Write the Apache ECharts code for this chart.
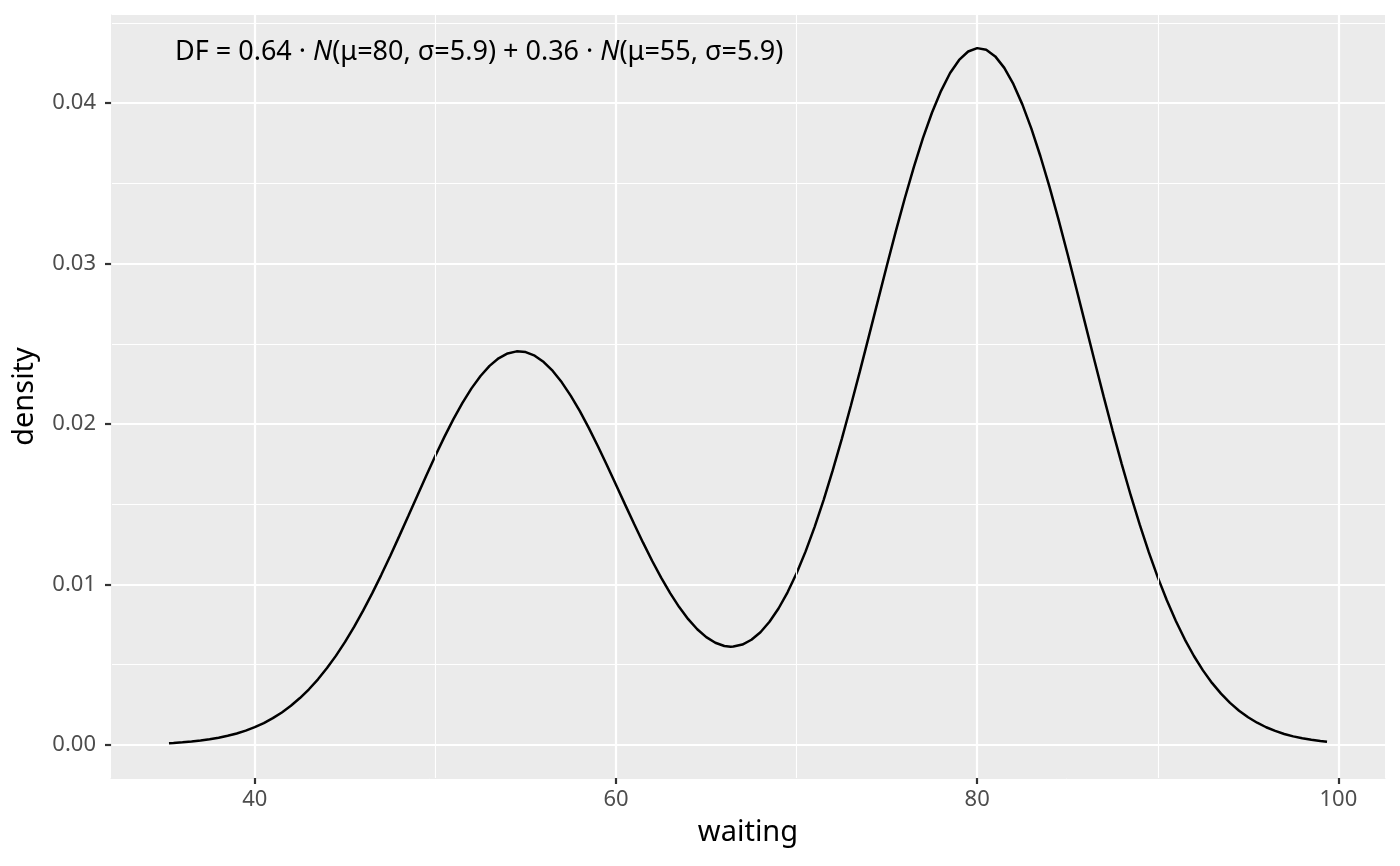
<!DOCTYPE html>
<html>
<head>
<meta charset="utf-8">
<script src="https://cdn.jsdelivr.net/npm/echarts@6/dist/echarts.min.js"></script>
<style>
  html, body { margin: 0; padding: 0; background: #fff; }
  #chart { width: 1400px; height: 866px; }
</style>
</head>
<body>
<div id="chart"></div>
<script>
// density of the two-component normal mixture
const waiting = [35.25, 35.5, 36, 36.5, 37, 37.5, 38, 38.5, 39, 39.5, 40, 40.5,
  41, 41.5, 42, 42.5, 43, 43.5, 44, 44.5, 45, 45.5, 46, 46.5, 47, 47.5, 48, 48.5,
  49, 49.5, 50, 50.5, 51, 51.5, 52, 52.5, 53, 53.5, 54, 54.5, 54.61, 55, 55.5, 56,
  56.5, 57, 57.5, 58, 58.5, 59, 59.5, 60, 60.5, 61, 61.5, 62, 62.5, 63, 63.5, 64,
  64.5, 65, 65.5, 66, 66.35, 66.5, 67, 67.5, 68, 68.5, 69, 69.5, 70, 70.5, 71,
  71.5, 72, 72.5, 73, 73.5, 74, 74.5, 75, 75.5, 76, 76.5, 77, 77.5, 78, 78.5, 79,
  79.5, 80, 80.09, 80.5, 81, 81.5, 82, 82.5, 83, 83.5, 84, 84.5, 85, 85.5, 86,
  86.5, 87, 87.5, 88, 88.5, 89, 89.5, 90, 90.5, 91, 91.5, 92, 92.5, 93, 93.5, 94,
  94.5, 95, 95.5, 96, 96.5, 97, 97.5, 98, 98.5, 99, 99.37];
const density = [0.000107, 0.000123, 0.000161, 0.000210, 0.000273, 0.000351,
  0.000448, 0.000568, 0.000715, 0.000893, 0.001108, 0.001364, 0.001668, 0.002026,
  0.002441, 0.002921, 0.003469, 0.004091, 0.004790, 0.005566, 0.006423, 0.007357,
  0.008367, 0.009445, 0.010586, 0.011780, 0.013013, 0.014270, 0.015536, 0.016793,
  0.018022, 0.019198, 0.020304, 0.021318, 0.022221, 0.022995, 0.023625, 0.024096,
  0.024400, 0.024529, 0.024534, 0.024481, 0.024257, 0.023862, 0.023305, 0.022598,
  0.021756, 0.020799, 0.019744, 0.018613, 0.017431, 0.016216, 0.014993, 0.013782,
  0.012606, 0.011481, 0.010427, 0.009460, 0.008592, 0.007839, 0.007210, 0.006716,
  0.006368, 0.006169, 0.006124, 0.006131, 0.006257, 0.006555, 0.007026, 0.007675,
  0.008504, 0.009514, 0.010702, 0.012063, 0.013591, 0.015277, 0.017106, 0.019061,
  0.021123, 0.023265, 0.025460, 0.027676, 0.029880, 0.032034, 0.034102, 0.036045,
  0.037828, 0.039413, 0.040763, 0.041872, 0.042688, 0.043214, 0.043425, 0.043432,
  0.043326, 0.042911, 0.042196, 0.041191, 0.039920, 0.038408, 0.036687, 0.034790,
  0.032750, 0.030610, 0.028401, 0.026162, 0.023925, 0.021722, 0.019577, 0.017518,
  0.015562, 0.013724, 0.012016, 0.010445, 0.009013, 0.007723, 0.006567, 0.005544,
  0.004647, 0.003867, 0.003195, 0.002620, 0.002134, 0.001725, 0.001384, 0.001103,
  0.000873, 0.000685, 0.000534, 0.000413, 0.000318, 0.000242, 0.000197];

const xTicks = [40, 60, 80, 100];
const xMinor = [50, 70, 90];
const yTicks = [0, 0.01, 0.02, 0.03, 0.04];
const yMinor = [0.005, 0.015, 0.025, 0.035, 0.045];

const xRange = [32.04, 102.58];
const yRange = [-0.00206, 0.04549];

const FONT = 'Noto Sans';

const chart = echarts.init(document.getElementById('chart'));

const major = { show: true, lineStyle: { color: '#ffffff', width: 2.2 } };
const minor = { show: true, lineStyle: { color: '#ffffff', width: 1.1 } };
const tickStyle = { color: '#333333', width: 2.2, opacity: 1 };
// ggplot has no axis line; keep one (x ticks need it) in the panel colour
const panelLine = { show: true, onZero: false, lineStyle: { color: '#EBEBEB', width: 1, opacity: 1 } };

chart.setOption({
  animation: false,
  textStyle: { fontFamily: FONT },
  grid: {
    left: 111, right: 15, top: 15, bottom: 88,
    show: true, backgroundColor: '#EBEBEB', borderWidth: 0
  },
  xAxis: {
    type: 'value', min: xRange[0], max: xRange[1],
    position: 'bottom',
    name: 'waiting', nameLocation: 'middle', nameGap: 40,
    nameTextStyle: { color: '#000000', fontSize: 29, fontFamily: FONT },
    axisLine: panelLine,
    axisTick: { show: true, inside: false, customValues: xTicks, length: 6, lineStyle: tickStyle },
    axisLabel: { customValues: xTicks, color: '#4D4D4D', fontSize: 22,
      margin: 11, fontFamily: FONT },
    splitLine: major
  },
  yAxis: [
    {
      type: 'value', min: yRange[0], max: yRange[1],
      position: 'left',
      name: 'density', nameLocation: 'middle', nameGap: 72, nameRotate: 90,
      nameTextStyle: { color: '#000000', fontSize: 29, fontFamily: FONT },
      axisLine: panelLine,
      axisTick: { show: true, customValues: yTicks, length: 6, lineStyle: tickStyle },
      axisLabel: { customValues: yTicks, color: '#4D4D4D', fontSize: 22,
        margin: 15, fontFamily: FONT, formatter: v => v.toFixed(2) },
      splitLine: major
    },
    {
      type: 'value', min: yRange[0], max: yRange[1],
      position: 'left',
      axisLine: { show: false, onZero: false },
      axisTick: { show: false, customValues: yMinor },
      axisLabel: { show: false },
      splitLine: minor
    }
  ],
  graphic: [
    {
      type: 'text', left: 175, top: 39, z: 100,
      style: {
        text: 'DF = 0.64 · {i|N}(μ=80, σ=5.9) + 0.36 · {i|N}(μ=55, σ=5.9)',
        font: '27px "Noto Sans"',
        fill: '#000000',
        rich: { i: { fontStyle: 'italic', fontSize: 27, fontFamily: FONT } }
      }
    }
  ],
  series: [
    {
      // minor vertical grid lines
      type: 'line',
      data: [],
      z: 1,
      silent: true,
      markLine: {
        silent: true,
        symbol: 'none',
        label: { show: false },
        lineStyle: { color: '#ffffff', width: 1.1, type: 'solid' },
        data: xMinor.map(v => ({ xAxis: v }))
      }
    },
    {
      type: 'line',
      xAxisIndex: 0, yAxisIndex: 0,
      data: waiting.map((w, i) => [w, density[i]]),
      showSymbol: false,
      smooth: false,
      z: 3,
      lineStyle: { color: '#000000', width: 2.5 },
      silent: true
    }
  ]
});
</script>
</body>
</html>
